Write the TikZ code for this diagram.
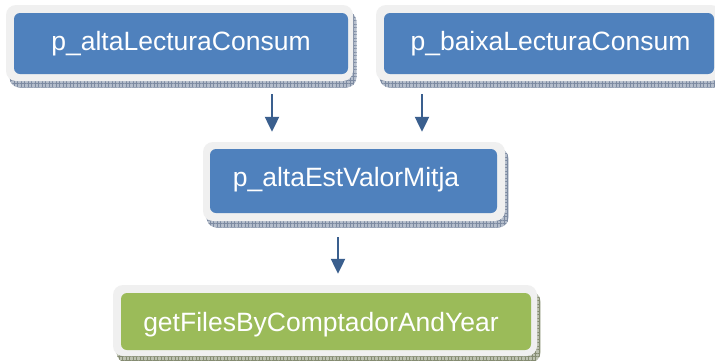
\documentclass[tikz,border=0pt]{standalone}
\usepackage{fontspec}
\setmainfont{Liberation Sans}
\usetikzlibrary{arrows.meta,patterns.meta}
\definecolor{boxblue}{HTML}{4F81BD}
\definecolor{boxgreen}{HTML}{9BBB59}
\definecolor{framegray}{HTML}{F0F0F0}
\definecolor{rimblue}{HTML}{B4BDCB}
\definecolor{rimbluedark}{HTML}{7D8BA2}
\definecolor{rimgreen}{HTML}{BCC1B0}
\definecolor{rimgreendark}{HTML}{858C72}
\definecolor{arrowblue}{HTML}{3A5F8E}
\tikzset{
  rimshadow/.style={rectangle, rounded corners=10pt, inner sep=0pt,
    fill=#1, postaction={pattern={Hatch[angle=0,distance=3.5pt,line width=0.3pt]}, pattern color=#1dark}},
  framebox/.style={rectangle, rounded corners=10pt, inner sep=0pt, fill=framegray},
  procbox/.style={rectangle, rounded corners=6pt, inner sep=0pt, fill=#1},
  lbl/.style={anchor=base, inner sep=0pt, text=white, font=\fontsize{26.5}{30}\selectfont},
  flow/.style={draw=arrowblue, line width=2.2pt, -{Triangle[width=14pt,length=15pt]}}
}
\begin{document}
\begin{tikzpicture}[x=1pt,y=-1pt]
\clip (0,0) rectangle (715,360);
\fill[white] (0,0) rectangle (715,360);

% raised rims behind each frame
\node[rimshadow=rimblue, minimum width=347pt, minimum height=76pt] (s1) at (183,49.5) {};
\node[rimshadow=rimblue, minimum width=345pt, minimum height=76pt] (s2) at (552,49.5) {};
\node[rimshadow=rimblue, minimum width=302pt, minimum height=79pt] (s3) at (357.5,188) {};
\node[rimshadow=rimgreen, minimum width=424pt, minimum height=71pt] (s4) at (328.5,327) {};

% light frames
\node[framebox, minimum width=347pt, minimum height=76pt] (f1) at (179.5,43) {};
\node[framebox, minimum width=345pt, minimum height=76pt] (f2) at (548.5,43) {};
\node[framebox, minimum width=302pt, minimum height=79pt] (f3) at (354,181.5) {};
\node[framebox, minimum width=424pt, minimum height=71pt] (f4) at (325,320.5) {};

% coloured procedure boxes
\node[procbox=boxblue, minimum width=334pt, minimum height=61pt] (b1) at (181,43.5) {};
\node[procbox=boxblue, minimum width=330pt, minimum height=61pt] (b2) at (549,43.5) {};
\node[procbox=boxblue, minimum width=287pt, minimum height=64pt] (b3) at (353.5,181) {};
\node[procbox=boxgreen, minimum width=410pt, minimum height=57pt] (b4) at (326,321.5) {};

% labels
\node[lbl] (t1) at (181,50) {p\_altaLecturaConsum};
\node[lbl] (t2) at (550.5,50) {p\_baixaLecturaConsum};
\node[lbl] (t3) at (346,186.5) {p\_altaEstValorMitja};
\node[lbl] (t4) at (321,331) {getFilesByComptadorAndYear};

% call arrows
\draw[flow, shorten <=20pt, shorten >=17pt] ([xshift=91pt]b1.south) -- ([xshift=-81.5pt]b3.north);
\draw[flow, shorten <=20pt, shorten >=17pt] ([xshift=-127pt]b2.south) -- ([xshift=68.5pt]b3.north);
\draw[flow, shorten <=24pt, shorten >=19pt] ([xshift=-15.5pt]b3.south) -- ([xshift=12pt]b4.north);
\end{tikzpicture}
\end{document}
